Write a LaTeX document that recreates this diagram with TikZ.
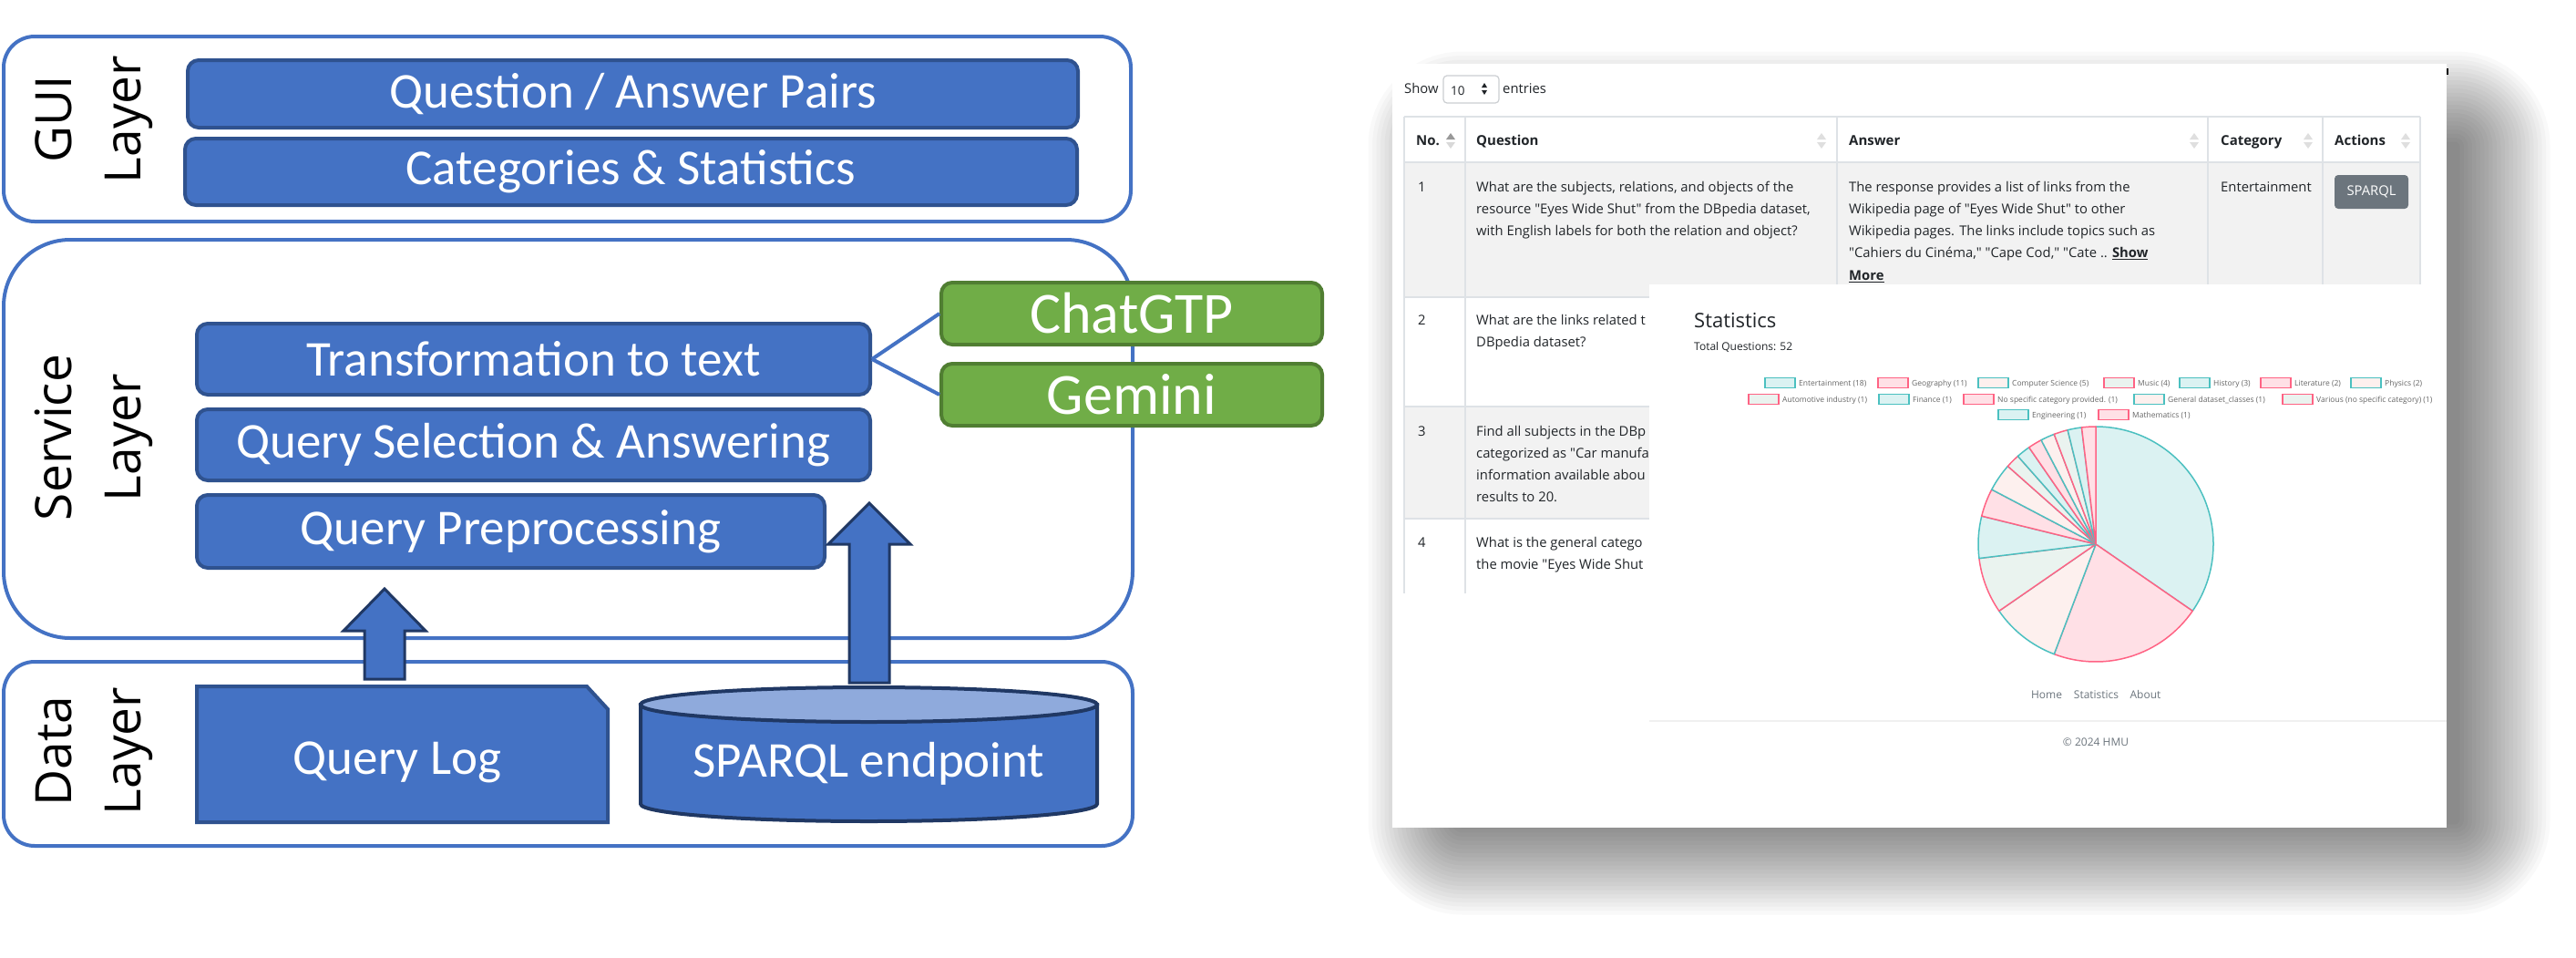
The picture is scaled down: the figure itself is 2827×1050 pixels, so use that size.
\documentclass[tikz,border=0pt]{standalone}
\usepackage{fontspec}
\setmainfont{Carlito}
\newfontfamily\uifont{Open Sans}

\definecolor{boxblue}{HTML}{4472C4}
\definecolor{boxline}{HTML}{2F528F}
\definecolor{darkline}{HTML}{203864}
\definecolor{topblue}{HTML}{8FAADC}
\definecolor{boxgreen}{HTML}{70AD47}
\definecolor{greenline}{HTML}{507E32}
\definecolor{uitext}{HTML}{212529}
\definecolor{uigray}{HTML}{6C757D}
\definecolor{rowgray}{HTML}{F2F2F2}
\definecolor{rulegray}{HTML}{DEE2E6}
\definecolor{legtext}{HTML}{666666}
\definecolor{chartteal}{HTML}{4BC0C0}
\definecolor{chartpink}{HTML}{FF6384}
\definecolor{fillteal}{HTML}{DBF2F2}
\definecolor{fillpink}{HTML}{FFE0E6}
\definecolor{fillcream}{HTML}{FDF0EE}
\definecolor{fillmint}{HTML}{EAF3EF}

\tikzset{
  layer/.style={draw=boxblue, line width=4pt, fill=white, rounded corners=34pt},
  layerlabel/.style={rotate=90, align=center, inner sep=0pt, font=\uifont\fontsize{55}{76}\selectfont},
  comp/.style={draw=boxline, line width=4pt, fill=boxblue, rounded corners=12pt, text=white,
    inner sep=0pt, font=\fontsize{55}{66}\selectfont},
  llm/.style={comp, draw=greenline, fill=boxgreen, font=\fontsize{64}{76}\selectfont},
  comptext/.style={text=white, inner sep=0pt, font=\fontsize{55}{66}\selectfont},
  logshape/.style={draw=boxline, line width=4pt, fill=boxblue},
  link/.style={draw=boxblue, line width=4pt},
  blockarrow/.style={draw=darkline, line width=3pt, fill=boxblue, line join=miter},
  cylbody/.style={draw=darkline, line width=4pt, fill=boxblue},
  cyltop/.style={draw=darkline, line width=4pt, fill=topblue},
  ui/.style={anchor=base west, inner sep=0pt, text=uitext, font=\uifont\fontsize{14.8}{18}\selectfont},
  uihead/.style={ui, font=\uifont\bfseries\fontsize{15}{18}\selectfont},
  tabrule/.style={draw=rulegray, line width=1.2pt},
  legend/.style={anchor=base west, inner sep=0pt, text=legtext, font=\uifont\fontsize{8.5}{10}\selectfont},
  foot/.style={anchor=base, inner sep=0pt, text=uigray, font=\uifont\fontsize{12}{14}\selectfont},
  slice1/.style={draw=chartteal, fill=fillteal},
  slice2/.style={draw=chartpink, fill=fillpink},
  slice3/.style={draw=chartteal, fill=fillcream},
  slice4/.style={draw=chartpink, fill=fillmint}
}

% block arrow pointing up: centre x, bottom y, head base y, tip y
\newcommand\blockup[4]{\filldraw[blockarrow] (#1-22,#2) -- (#1-22,#3) -- (#1-45,#3) -- (#1,#4)
  -- (#1+45,#3) -- (#1+22,#3) -- (#1+22,#2) -- cycle;}
% sort marks of a table header: x, colour up, colour down
\newcommand\sortmark[3]{\fill[#2] (#1-5,153) -- (#1+5,153) -- (#1,146) -- cycle;
  \fill[#3] (#1-5,156) -- (#1+5,156) -- (#1,163) -- cycle;}

\begin{document}
\begin{tikzpicture}[x=1pt, y=-1pt]
\useasboundingbox (0,0) rectangle (2827,1050);
\fill[white] (0,0) rectangle (2827,1050);

% GUI layer
\node[layer, minimum width=1237pt, minimum height=203pt] (gui) at (622.5,141.5) {};
\node[layerlabel] (guilbl) at (103,131) {GUI\\Layer};
\node[comp, minimum width=977pt, minimum height=74pt] (qa) at (694.5,103) {Question / Answer Pairs};
\node[comp, minimum width=979pt, minimum height=73pt] (cat) at (692.5,188.5) {Categories \& Statistics};

% Service layer
\node[layer, rounded corners=73pt, minimum width=1239pt, minimum height=437pt] (service) at (623.5,481.5) {};
\node[layerlabel] (servicelbl) at (103,480) {Service\\Layer};
\node[comp, minimum width=739pt, minimum height=78pt] (trans) at (585.5,394) {Transformation to text};
\node[comp, minimum width=739pt, minimum height=78pt] (qsel) at (585.5,488) {Query Selection \& Answering};
\node[comp, minimum width=689pt, minimum height=80pt] (qpre) at (560.5,583) {Query Preprocessing};
\node[llm, minimum width=418pt, minimum height=68pt] (chat) at (1242,344) {ChatGTP};
\node[llm, minimum width=418pt, minimum height=68pt] (gem) at (1242,433) {Gemini};
\draw[link] (trans.east) -- (chat.west);
\draw[link] (trans.east) -- (gem.west);

% Data layer
\node[layer, minimum width=1239pt, minimum height=202pt] (data) at (623.5,827) {};
\node[layerlabel] (datalbl) at (103,824) {Data\\Layer};
\filldraw[logshape] (216,753) -- (644,753) -- (667,778) -- (667,902) -- (216,902) -- cycle;
\node[comptext] (qlog) at (436,836) {Query Log};
\filldraw[cylbody] (703,773) -- (703,882) arc[start angle=180, end angle=0, x radius=250.5, y radius=19]
  -- (1204,773) -- cycle;
\filldraw[cyltop] (953.5,773) ellipse[x radius=250.5, y radius=19];
\node[comptext] (sparql) at (953.5,838) {SPARQL endpoint};

\blockup{422}{745}{692}{646}
\blockup{954}{749}{597}{552}

% screenshot with shadow
\foreach \i in {1,...,23}
  \fill[black, opacity=0.022, rounded corners={4.5pt*\i}] (1605-4.5*\i,160-4.5*\i) rectangle (2695+4.5*\i,900+4.5*\i);
\fill[white] (1528,70) rectangle (2685,908);
\draw[line width=2pt] (2686,75) -- (2686,82);

\node[ui] (show) at (1541,102) {Show};
\draw[draw=rulegray!80!gray, line width=1.2pt, rounded corners=4pt] (1584,83) rectangle (1645,113);
\node[ui, font=\uifont\fontsize{13.5}{16}\selectfont] (entries10) at (1592,104) {10};
\fill[uitext] (1626,96) -- (1632,96) -- (1629,91) -- cycle;
\fill[uitext] (1626,99) -- (1632,99) -- (1629,104) -- cycle;
\node[ui] (entries) at (1649,102) {entries};

% table
\fill[rowgray] (1541,178) rectangle (2656,326);
\fill[rowgray] (1541,446) rectangle (2656,569);
\draw[tabrule] (1541,128) -- (2656,128);
\draw[tabrule, line width=2.5pt] (1541,178) -- (2656,178);
\foreach \ry in {326,446,569}
  \draw[tabrule] (1541,\ry) -- (2656,\ry);
\foreach \cx in {1541,1608}
  \draw[tabrule] (\cx,128) -- (\cx,651);
\foreach \cx in {2016,2423,2549,2656}
  \draw[tabrule] (\cx,128) -- (\cx,326);

\node[uihead] (hno) at (1554,159.5) {No.};
\node[uihead] (hq) at (1620,159.5) {Question};
\node[uihead] (ha) at (2029,159.5) {Answer};
\node[uihead] (hc) at (2437,159.5) {Category};
\node[uihead] (hact) at (2562,159.5) {Actions};
\sortmark{1592}{gray!80}{gray!30}
\foreach \sx in {1999,2408,2533,2640}
  {\sortmark{\sx}{gray!25}{gray!25}}

\node[ui] (n1) at (1556,210) {1};
\foreach \t [count=\k from 0] in {{What are the subjects, relations, and objects of the},
    {resource "Eyes Wide Shut" from the DBpedia dataset,},
    {with English labels for both the relation and object?}}
  \node[ui] (qone-\k) at (1620,210+24.3*\k) {\t};
\foreach \t [count=\k from 0] in {{The response provides a list of links from the},
    {Wikipedia page of "Eyes Wide Shut" to other},
    {Wikipedia pages. The links include topics such as},
    {"Cahiers du Cinéma," "Cape Cod," "Cate .. \textbf{\underline{Show}}},
    {\textbf{\underline{More}}}}
  \node[ui] (aone-\k) at (2029,210+24.3*\k) {\t};
\node[ui] (cone) at (2437,210) {Entertainment};
\node[fill=uigray, rounded corners=4pt, minimum width=81pt, minimum height=37pt, inner sep=0pt,
  text=white, font=\uifont\fontsize{14.8}{18}\selectfont] (sparqlbtn) at (2602.5,210.5) {SPARQL};

\node[ui] (n2) at (1556,356) {2};
\foreach \t [count=\k from 0] in {{What are the links related t}, {DBpedia dataset?}}
  \node[ui] (qtwo-\k) at (1620,356+24.3*\k) {\t};
\node[ui] (n3) at (1556,478) {3};
\foreach \t [count=\k from 0] in {{Find all subjects in the DBp}, {categorized as "Car manufa},
    {information available abou}, {results to 20.}}
  \node[ui] (qthree-\k) at (1620,478+24.3*\k) {\t};
\node[ui] (n4) at (1556,600) {4};
\foreach \t [count=\k from 0] in {{What is the general catego}, {the movie "Eyes Wide Shut}}
  \node[ui] (qfour-\k) at (1620,600+24.3*\k) {\t};

% statistics page
\fill[white] (1810,312) rectangle (2685,908);
\node[ui, font=\uifont\fontsize{22}{26}\selectfont] (stats) at (1859,359) {Statistics};
\node[ui, font=\uifont\fontsize{12}{14}\selectfont] (total) at (1859,384) {Total Questions: 52};

\foreach \bx/\by/\lab/\st in {1937/420/Entertainment (18)/1, 2061/420/Geography (11)/2,
    2171/420/Computer Science (5)/3, 2309/420/Music (4)/4, 2392/420/History (3)/1,
    2481/420/Literature (2)/2, 2580/420/Physics (2)/3,
    1919/438/Automotive industry (1)/4, 2062/438/Finance (1)/1,
    2155/438/No specific category provided. (1)/2, 2342/438/General dataset\_classes (1)/3,
    2505/438/Various (no specific category) (1)/4,
    2193/455/Engineering (1)/1, 2303/455/Mathematics (1)/2}
{
  \draw[slice\st, line width=1.5pt] (\bx,\by-5.5) rectangle ++(33,11);
  \node[legend] at (\bx+37,\by+3) {\lab};
}

\coordinate (pie) at (2300,597);
\foreach \a/\b/\st in {0/18/1, 18/29/2, 29/34/3, 34/38/4, 38/41/1, 41/43/2, 43/45/3,
    45/46/4, 46/47/1, 47/48/2, 48/49/3, 49/50/4, 50/51/1, 51/52/2}
  \filldraw[slice\st, line width=1.5pt, line join=round] (pie) -- ++({-90+6.92308*\a}:129)
    arc[start angle={-90+6.92308*\a}, end angle={-90+6.92308*\b}, radius=129] -- cycle;

\node[foot] (home) at (2246,766) {Home};
\node[foot] (statlink) at (2300.5,766) {Statistics};
\node[foot] (about) at (2354.5,766) {About};
\draw[draw=gray!12, line width=2pt] (1810,791) -- (2685,791);
\node[foot] (copy) at (2300,818) {© 2024 HMU};
\end{tikzpicture}
\end{document}
